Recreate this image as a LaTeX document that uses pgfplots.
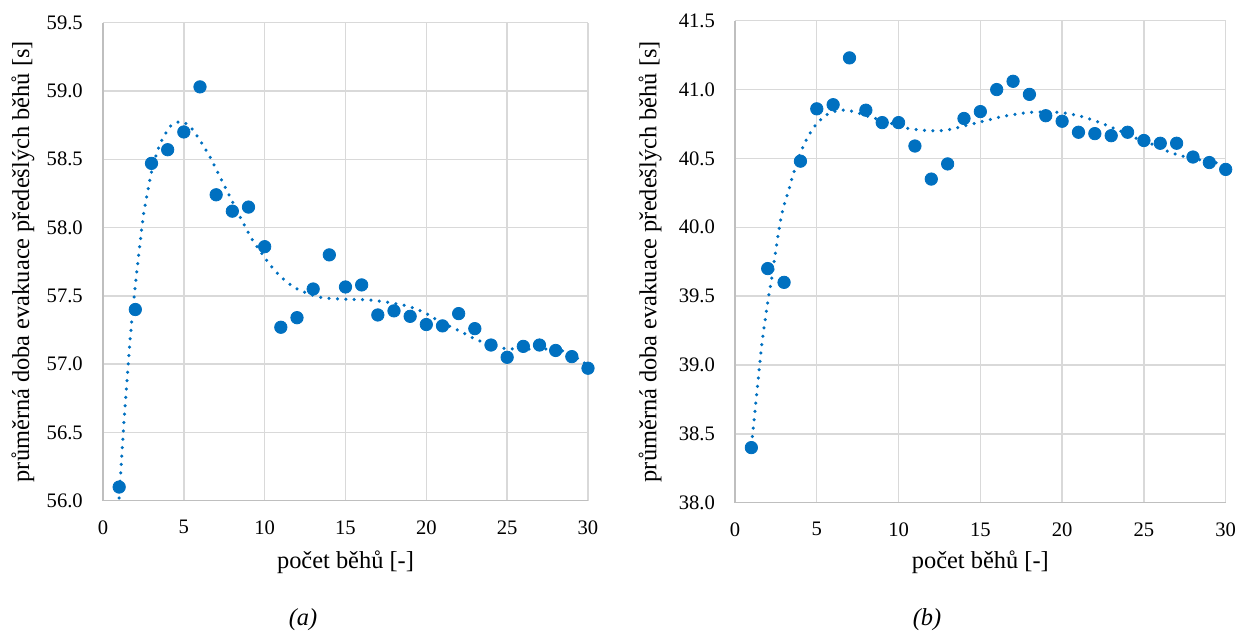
\documentclass[border=0pt]{standalone}
\usepackage{fontspec}
\setmainfont{Liberation Serif}
\usepackage{pgfplots}
\pgfplotsset{compat=1.18}

\definecolor{runblue}{HTML}{0070C0}
\definecolor{gridgray}{HTML}{D9D9D9}
\definecolor{axisgray}{HTML}{BFBFBF}

\pgfplotsset{
  runchart/.style={
    scale only axis,
    anchor=south west,
    xmin=0, xmax=30,
    xtick={0,5,10,15,20,25,30},
    xmajorgrids, ymajorgrids,
    grid style={gridgray, line width=0.7pt},
    axis x line*=bottom, axis y line*=left,
    axis line style={axisgray, line width=0.7pt},
    major tick length=0pt,
    tick style={draw=none},
    /pgf/number format/assume math mode=true,
    ticklabel style={font=\fontsize{10.3}{12}\selectfont},
    yticklabel={\pgfmathprintnumber[fixed,fixed zerofill,precision=1]{\tick}},
    yticklabel style={inner sep=0pt, xshift=-9.9pt},
    xticklabel style={inner sep=0pt, yshift=-9.7pt},
    label style={font=\fontsize{12.2}{14}\selectfont},
    xlabel={počet běhů [-]},
    ylabel={průměrná doba evakuace předešlých běhů [s]},
  },
  runs/.style={only marks, mark=*, mark size=3.1pt,
    mark options={draw=runblue, fill=runblue}},
  trend/.style={runblue, line width=1.75pt, line cap=round,
    dash pattern=on 0pt off 4.2pt, smooth, no marks},
}

\begin{document}
\begin{tikzpicture}
\path[use as bounding box] (0,0) rectangle (619pt,316pt);

% (a)
\begin{axis}[runchart,
  at={(51.5pt,65.65pt)}, width=242.5pt, height=239pt,
  ymin=56, ymax=59.5,
  ytick={56,56.5,57,57.5,58,58.5,59,59.5},
  xlabel style={at={(axis description cs:0.5,-0.128)}, anchor=center},
  ylabel style={at={(axis description cs:-0.165,0.5)}, anchor=center},
]
\addplot[runs] coordinates {
  (1,56.10) (2,57.40) (3,58.47) (4,58.57) (5,58.70)
  (6,59.03) (7,58.24) (8,58.12) (9,58.15) (10,57.86)
  (11,57.27) (12,57.34) (13,57.55) (14,57.80) (15,57.565)
  (16,57.58) (17,57.36) (18,57.39) (19,57.35) (20,57.29)
  (21,57.28) (22,57.37) (23,57.26) (24,57.14) (25,57.05)
  (26,57.13) (27,57.14) (28,57.10) (29,57.055) (30,56.97)
};
\addplot[trend] coordinates {
  (1,56.02) (1.26,56.51) (1.55,56.98) (1.81,57.36) (2.19,57.78)
  (2.49,58.08) (2.76,58.26) (3.05,58.43) (3.52,58.61) (4.04,58.72)
  (4.35,58.76) (4.87,58.775) (5.32,58.745) (5.65,58.70) (6.2,58.60)
  (6.72,58.495) (7.17,58.385) (7.65,58.275) (8.3,58.12) (8.78,58.01)
  (9.29,57.90) (9.83,57.81) (10.45,57.71) (11.19,57.62) (12.02,57.55)
  (13.42,57.49) (15,57.475) (16.5,57.47) (18,57.445) (19,57.42)
  (20,57.37) (20.84,57.31) (21.77,57.26) (23.1,57.18) (24.55,57.12)
  (26,57.11) (27.45,57.11) (28.68,57.09) (29.5,57.03) (30,56.99)
};
\end{axis}

% (b)
\begin{axis}[runchart,
  at={(367.5pt,64.65pt)}, width=245.35pt, height=241pt,
  ymin=38, ymax=41.5,
  ytick={38,38.5,39,39.5,40,40.5,41,41.5},
  xlabel style={at={(axis description cs:0.5,-0.123)}, anchor=center},
  ylabel style={at={(axis description cs:-0.173,0.5)}, anchor=center},
]
\addplot[runs] coordinates {
  (1,38.40) (2,39.70) (3,39.60) (4,40.48) (5,40.86)
  (6,40.89) (7,41.23) (8,40.85) (9,40.76) (10,40.76)
  (11,40.59) (12,40.35) (13,40.46) (14,40.79) (15,40.84)
  (16,41.00) (17,41.06) (18,40.965) (19,40.81) (20,40.77)
  (21,40.69) (22,40.68) (23,40.665) (24,40.69) (25,40.63)
  (26,40.61) (27,40.61) (28,40.51) (29,40.47) (30,40.42)
};
\addplot[trend] coordinates {
  (1,38.42) (1.28,38.73) (1.47,38.96) (1.67,39.18) (1.87,39.35)
  (2.06,39.50) (2.25,39.63) (2.45,39.80) (2.85,40.09) (3.26,40.26)
  (3.57,40.39) (4.03,40.55) (4.48,40.66) (5.05,40.76) (5.81,40.83)
  (6.83,40.85) (8.29,40.80) (9.68,40.75) (10.7,40.715) (12.22,40.70)
  (13.14,40.71) (14.16,40.74) (15.18,40.77) (16.6,40.81) (18.13,40.835)
  (19.66,40.835) (20.63,40.82) (21.6,40.79) (22.62,40.745) (23.53,40.70)
  (24.45,40.65) (25.37,40.61) (26.28,40.56) (27.24,40.52) (28.42,40.49)
  (29.75,40.46) (30,40.45)
};
\end{axis}

\node[font=\itshape\fontsize{12.2}{14}\selectfont] at (151.5pt,6pt) {(a)};
\node[font=\itshape\fontsize{12.2}{14}\selectfont] at (463.5pt,6pt) {(b)};
\end{tikzpicture}
\end{document}
